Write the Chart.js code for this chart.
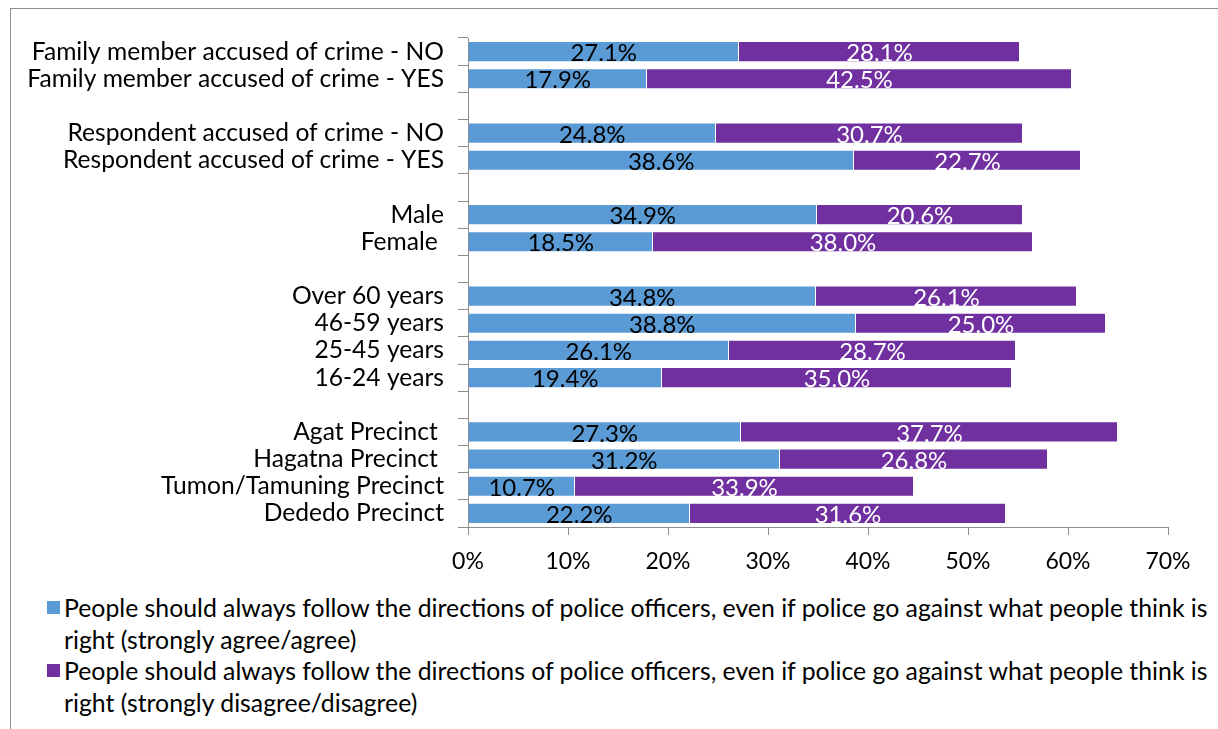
<!DOCTYPE html>
<html>
<head>
<meta charset="utf-8">
<script src="https://cdn.jsdelivr.net/npm/chart.js@4.4.1/dist/chart.umd.min.js"></script>
<style>
  body { margin: 0; background: #fff; font-family: Lato, 'Open Sans', sans-serif; }
  #quadro { position: absolute; left: 10px; top: 8px; width: 1300px; height: 800px;
            border-left: 1px solid #8c8c8c; border-top: 1px solid #8c8c8c; }
  #caixa { position: absolute; left: 0; top: 0; width: 1218px; height: 590px; }
  #legenda { position: absolute; left: 47px; top: 592px; font-size: 24.8px; line-height: 31.5px;
             color: #000; white-space: nowrap; }
  .item { position: relative; padding-left: 17px; }
  .item span.cor { position: absolute; left: 0; top: 9px; width: 13px; height: 13px; }
</style>
</head>
<body>
<div id="quadro"></div>
<div id="caixa"><canvas id="graficoPolicia"></canvas></div>
<div id="legenda"></div>

<script>
// Categorias (vazias = espaço entre grupos)
const categorias = [
    'Family member accused of crime - NO',
    'Family member accused of crime - YES',
    '',
    'Respondent accused of crime - NO',
    'Respondent accused of crime - YES',
    '',
    'Male',
    'Female ',
    '',
    'Over 60 years',
    '46-59 years',
    '25-45 years',
    '16-24 years',
    '',
    'Agat Precinct ',
    'Hagatna Precinct ',
    'Tumon/Tamuning Precinct',
    'Dededo Precinct'
];

// Concordam / discordam (%)
const concordam = [27.1, 17.9, null, 24.8, 38.6, null, 34.9, 18.5, null, 34.8, 38.8, 26.1, 19.4, null, 27.3, 31.2, 10.7, 22.2];
const discordam = [28.1, 42.5, null, 30.7, 22.7, null, 20.6, 38.0, null, 26.1, 25.0, 28.7, 35.0, null, 37.7, 26.8, 33.9, 31.6];

const textoLegenda = [
    ['People should always follow the directions of police officers, even if police go against what people think is', 'right (strongly agree/agree)'],
    ['People should always follow the directions of police officers, even if police go against what people think is', 'right (strongly disagree/disagree)']
];
const coresSeries = ['#5b9bd5', '#7030a0'];
const coresRotulos = ['#000000', '#ffffff'];

const fonte = "Lato, 'Open Sans', sans-serif";

// Rótulos de valor dentro das barras
const pluginRotulos = {
    id: 'rotulosValores',
    afterDatasetsDraw(chart) {
        const ctx = chart.ctx;
        ctx.save();
        ctx.font = '24px ' + fonte;
        ctx.textAlign = 'center';
        ctx.textBaseline = 'middle';
        chart.data.datasets.forEach((ds, i) => {
            const meta = chart.getDatasetMeta(i);
            meta.data.forEach((barra, j) => {
                const v = ds.data[j];
                if (v === null || v === undefined) return;
                ctx.fillStyle = coresRotulos[i];
                ctx.fillText(v.toFixed(1) + '%', (barra.x + barra.base) / 2, barra.y + 2);
            });
        });
        ctx.restore();
    }
};

const ctx = document.getElementById('graficoPolicia');
new Chart(ctx.getContext('2d'), {
    type: 'bar',
    data: {
        labels: categorias,
        datasets: [
            { label: textoLegenda[0].join(' '), data: concordam, backgroundColor: coresSeries[0],
              borderColor: 'rgba(255,255,255,0.45)', borderWidth: 1, barPercentage: 0.78, categoryPercentage: 1 },
            { label: textoLegenda[1].join(' '), data: discordam, backgroundColor: coresSeries[1],
              borderColor: 'rgba(255,255,255,0.45)', borderWidth: 1, barPercentage: 0.78, categoryPercentage: 1 }
        ]
    },
    options: {
        indexAxis: 'y',
        responsive: true,
        maintainAspectRatio: false,
        animation: false,
        layout: { padding: { top: 38, right: 50, bottom: 0, left: 0 } },
        plugins: { legend: { display: false }, tooltip: { enabled: false } },
        scales: {
            x: {
                stacked: true,
                min: 0, max: 70,
                ticks: { stepSize: 10, callback: v => v + '%', color: '#000', padding: 13,
                         font: { family: fonte, size: 23 } },
                grid: { drawOnChartArea: false, tickLength: 8, color: '#8c8c8c' },
                border: { color: '#8c8c8c' },
                afterFit: s => { s.height = 63; }
            },
            y: {
                stacked: true,
                ticks: { color: '#000', padding: 14, autoSkip: false, font: { family: fonte, size: 24.6 } },
                grid: { drawOnChartArea: false, offset: true, tickLength: 10, color: '#8c8c8c' },
                border: { color: '#8c8c8c' },
                afterFit: s => { s.width = 468; }
            }
        }
    },
    plugins: [pluginRotulos]
});

// Legenda em HTML (texto quebrado em duas linhas)
const legenda = document.getElementById('legenda');
textoLegenda.forEach((linhas, i) => {
    const item = document.createElement('div');
    item.className = 'item';
    const cor = document.createElement('span');
    cor.className = 'cor';
    cor.style.background = coresSeries[i];
    item.appendChild(cor);
    item.appendChild(document.createTextNode(linhas[0]));
    item.appendChild(document.createElement('br'));
    item.appendChild(document.createTextNode(linhas[1]));
    legenda.appendChild(item);
});
</script>
</body>
</html>
